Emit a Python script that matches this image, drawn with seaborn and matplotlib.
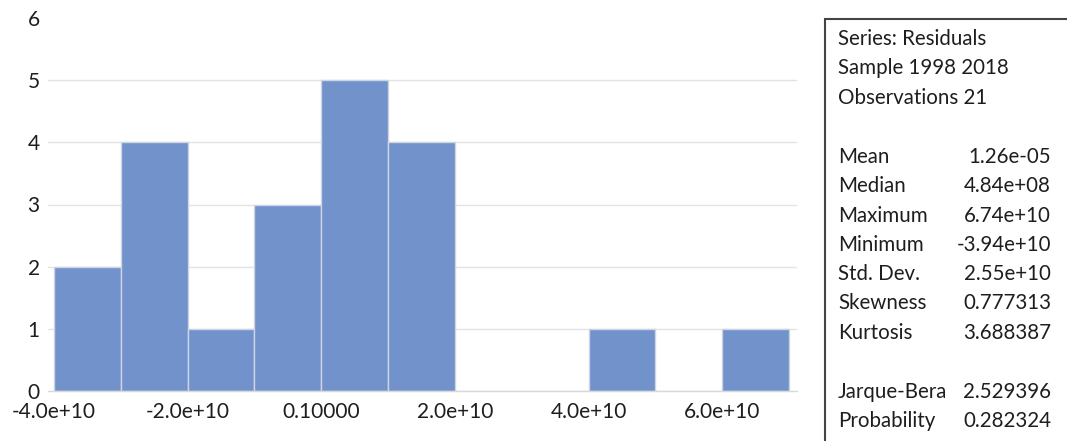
import matplotlib
matplotlib.use("Agg")
import matplotlib.pyplot as plt
from matplotlib.patches import Rectangle
import numpy as np
import pandas as pd
import seaborn as sns

# Residual histogram: bin edges and counts per bin
bin_edges = [-4e10, -3e10, -2e10, -1e10, 0.0, 1e10, 2e10, 3e10, 4e10, 5e10, 6e10, 7e10]
bin_counts = [2, 4, 1, 3, 5, 4, 0, 0, 1, 0, 1]

# Axis ticks
x_ticks = [-4e10, -2e10, 0.0, 2e10, 4e10, 6e10]
x_tick_labels = ["-4.0e+10", "-2.0e+10", "0.10000", "2.0e+10", "4.0e+10", "6.0e+10"]
y_ticks = [0, 1, 2, 3, 4, 5, 6]

# Descriptive statistics panel
header_lines = ["Series: Residuals", "Sample 1998 2018", "Observations 21"]
stat_names = ["Mean", "Median", "Maximum", "Minimum", "Std. Dev.", "Skewness", "Kurtosis"]
stat_values = ["1.26e-05", "4.84e+08", "6.74e+10", "-3.94e+10", "2.55e+10", "0.777313", "3.688387"]
test_names = ["Jarque-Bera", "Probability"]
test_values = ["2.529396", "0.282324"]

sns.set_theme(style="white")
plt.rcParams["font.family"] = ["Lato", "DejaVu Sans"]

W, H = 1067, 441
fig = plt.figure(figsize=(W / 100, H / 100), dpi=100)
ax = fig.add_axes([48 / W, (H - 391) / H, (797 - 48) / W, (391 - 18) / H])

edges = np.array(bin_edges)
hist_df = pd.DataFrame({"resid": (edges[:-1] + edges[1:]) / 2, "count": bin_counts})
sns.histplot(data=hist_df, x="resid", weights="count", bins=list(bin_edges), ax=ax,
             color="#7292CC", edgecolor="#CDD5E3", linewidth=1.0, alpha=1.0)

ax.set_xlim(-4.09e10, 7.12e10)
ax.set_ylim(0, 6)
ax.set_xticks(x_ticks)
ax.set_xticklabels(x_tick_labels)
ax.set_yticks(y_ticks)
ax.set_xlabel("")
ax.set_ylabel("")
ax.tick_params(axis="both", length=0, labelsize=15, colors="#1E1E1E")
ax.tick_params(axis="y", pad=6)
ax.tick_params(axis="x", pad=8)

for y in y_ticks[1:-1]:
    ax.axhline(y, color="#E3E3E3", linewidth=1.0, zorder=0)
for side in ["top", "right", "left"]:
    ax.spines[side].set_visible(False)
ax.spines["bottom"].set_color("#D9D9D9")
ax.spines["bottom"].set_linewidth(1.0)

# Statistics box (top and left border visible within the figure)
box_left = 825 / W
box_top = 1 - 19 / H
fig.patches.append(Rectangle((box_left, -0.2), 0.4, box_top + 0.2,
                             transform=fig.transFigure, facecolor="none",
                             edgecolor="#444444", linewidth=1.5))

text_x = 838 / W
value_x = 1051 / W
fs = 14.8

def ypos(py):
    return 1 - py / H

header_y = [39, 68, 98]
for line, py in zip(header_lines, header_y):
    fig.text(text_x, ypos(py), line, fontsize=fs, va="center", ha="left", color="#1E1E1E")

stat_y = [157, 186, 216, 245, 274, 303, 333]
for name, val, py in zip(stat_names, stat_values, stat_y):
    fig.text(text_x, ypos(py), name, fontsize=fs, va="center", ha="left", color="#1E1E1E")
    fig.text(value_x, ypos(py), val, fontsize=fs, va="center", ha="right", color="#1E1E1E")

test_y = [392, 421]
for name, val, py in zip(test_names, test_values, test_y):
    fig.text(text_x, ypos(py), name, fontsize=fs, va="center", ha="left", color="#1E1E1E")
    fig.text(value_x, ypos(py), val, fontsize=fs, va="center", ha="right", color="#1E1E1E")

fig.savefig("out.png", dpi=100)
